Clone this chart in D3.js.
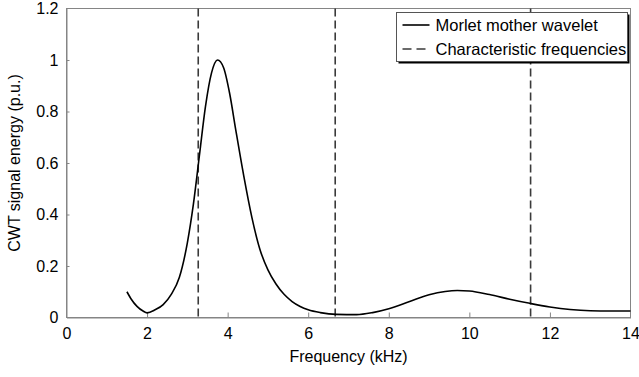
<!DOCTYPE html>
<html>
<head>
<meta charset="utf-8">
<script src="https://cdn.jsdelivr.net/npm/d3@7"></script>
<style>
  body { margin: 0; background: #fff; }
  svg text { font-family: Arial, "Liberation Sans", sans-serif; fill: #000; }
</style>
</head>
<body>
<svg id="chart" width="639" height="377"></svg>
<script>
// Morlet mother wavelet curve
var freqs = [1.5, 1.6, 1.75, 1.9, 2.0, 2.2, 2.4, 2.6, 2.8, 3.0, 3.15, 3.3, 3.45, 3.6, 3.75,
             3.9, 4.05, 4.2, 4.4, 4.6, 4.8, 5.0, 5.2, 5.4, 5.6, 5.8, 6.0, 6.3, 6.7,
             7.2, 7.6, 8.0, 8.5, 9.0, 9.4, 9.7, 10.0, 10.5, 11.0, 11.5, 12.0, 12.5,
             13.0, 13.5, 14.0];
var energy = [0.10, 0.073, 0.043, 0.025, 0.018, 0.03, 0.05, 0.09, 0.155, 0.29, 0.44, 0.63, 0.82, 0.95, 1.0,
              0.97, 0.87, 0.73, 0.55, 0.39, 0.265, 0.185, 0.13, 0.09, 0.062, 0.043, 0.03, 0.019, 0.012,
              0.011, 0.019, 0.034, 0.061, 0.088, 0.101, 0.105, 0.103, 0.089, 0.071, 0.055, 0.041, 0.031,
              0.026, 0.025, 0.025];
// characteristic frequencies (dashed lines)
var charFreqs = [3.27, 6.67, 11.52];
var xTicks = [0, 2, 4, 6, 8, 10, 12, 14];
var yTicks = [0, 0.2, 0.4, 0.6, 0.8, 1, 1.2];
var legendLabels = ["Morlet mother wavelet", "Characteristic frequencies"];

var margin = {top: 8.5, right: 8.5, bottom: 59.5, left: 66.5};
var svgEl = d3.select('#chart');
var width = 639 - margin.left - margin.right;
var height = 377 - margin.top - margin.bottom;

var svg = svgEl.append('g')
  .attr('transform', 'translate(' + margin.left + ',' + margin.top + ')');

var x = d3.scaleLinear().domain([0, 14]).range([0, width]);
var y = d3.scaleLinear().domain([0, 1.2]).range([height, 0]);

var axisColor = '#858585';

// frame
svg.append('rect')
  .attr('width', width)
  .attr('height', height)
  .attr('fill', 'none')
  .attr('stroke', axisColor)
  .attr('stroke-width', 1);

var xAxis = svg.append('g')
  .attr('transform', 'translate(0,' + height + ')')
  .call(d3.axisBottom(x).tickValues(xTicks).tickSizeInner(-5).tickSizeOuter(0).tickPadding(10)
    .tickFormat(d3.format('d')));
var yAxis = svg.append('g')
  .call(d3.axisLeft(y).tickValues(yTicks).tickSizeInner(-3).tickSizeOuter(0).tickPadding(8)
    .tickFormat(function(d) { return d === 0 || d === 1 ? String(d) : d3.format('.1f')(d); }));

[xAxis, yAxis].forEach(function(a) {
  a.select('.domain').attr('stroke', axisColor);
  a.selectAll('.tick line').attr('stroke', axisColor);
  a.selectAll('.tick text').style('font-size', '16px').attr('fill', '#000');
  a.attr('font-family', null).attr('font-size', null);
});
// no ticks at the ends of the frame
xAxis.selectAll('.tick line').filter(function(d) { return d === 0 || d === 14; }).remove();
yAxis.selectAll('.tick line').filter(function(d) { return d === 0 || d === 1.2; }).remove();

// dashed characteristic frequency lines
svg.selectAll('.charline')
  .data(charFreqs)
  .enter()
  .append('line')
  .attr('class', 'charline')
  .attr('x1', function(d) { return x(d); })
  .attr('x2', function(d) { return x(d); })
  .attr('y1', 0)
  .attr('y2', height)
  .attr('stroke', '#3a3a3a')
  .attr('stroke-width', 1.6)
  .attr('stroke-dasharray', '8,4');

// wavelet curve
var points = freqs.map(function(f, i) { return [f, energy[i]]; });
var line = d3.line()
  .x(function(d) { return x(d[0]); })
  .y(function(d) { return y(d[1]); })
  .curve(d3.curveMonotoneX);
svg.append('path')
  .datum(points)
  .attr('d', line)
  .attr('fill', 'none')
  .attr('stroke', '#000')
  .attr('stroke-width', 1.6);

// axis titles
svg.append('text')
  .attr('x', width / 2)
  .attr('y', height + 44)
  .attr('text-anchor', 'middle')
  .style('font-size', '16px')
  .text('Frequency (kHz)');
svg.append('text')
  .attr('transform', 'translate(' + (-47) + ',' + (height / 2) + ') rotate(-90)')
  .attr('text-anchor', 'middle')
  .style('font-size', '16px')
  .text('CWT signal energy (p.u.)');

// legend
var lg = svgEl.append('g').attr('transform', 'translate(396.5,12.5)');
var lgW = 231, lgH = 49;
lg.append('rect')
  .attr('x', 2).attr('y', 2)
  .attr('width', lgW).attr('height', lgH)
  .attr('fill', '#000');
lg.append('rect')
  .attr('width', lgW).attr('height', lgH)
  .attr('fill', '#fff')
  .attr('stroke', '#555')
  .attr('stroke-width', 1);
var rows = lg.selectAll('.legend')
  .data(legendLabels)
  .enter()
  .append('g')
  .attr('class', 'legend')
  .attr('transform', function(d, i) { return 'translate(0,' + (12.5 + i * 24) + ')'; });
rows.append('line')
  .attr('x1', 6).attr('x2', 33)
  .attr('y1', 0).attr('y2', 0)
  .attr('stroke', function(d, i) { return i === 0 ? '#000' : '#3a3a3a'; })
  .attr('stroke-width', 1.6)
  .attr('stroke-dasharray', function(d, i) { return i === 0 ? null : '9,5'; });
rows.append('text')
  .attr('x', 39)
  .attr('dy', '0.36em')
  .style('font-size', '16.5px')
  .text(function(d) { return d; });
</script>
</body>
</html>
